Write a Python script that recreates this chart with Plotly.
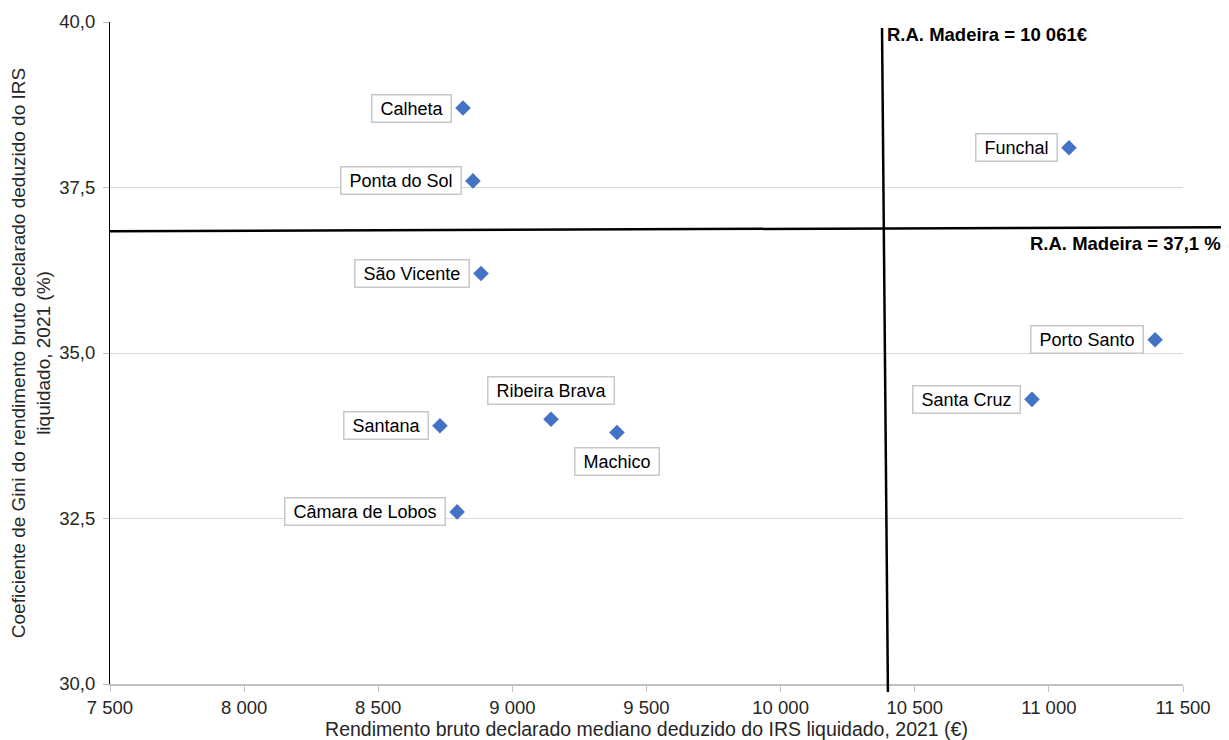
import plotly.graph_objects as go

# ---- data ----
municipios = ["Calheta", "Ponta do Sol", "São Vicente", "Funchal", "Porto Santo",
              "Santa Cruz", "Ribeira Brava", "Machico", "Santana", "Câmara de Lobos"]
rendimento = [8816, 8853, 8883, 11075, 11396, 10937, 9144, 9390, 8730, 8794]
gini = [38.7, 37.6, 36.2, 38.1, 35.2, 34.3, 34.0, 33.8, 33.9, 32.6]

ref_rendimento_label = "R.A. Madeira = 10 061€"
ref_gini_label = "R.A. Madeira = 37,1 %"
# reference lines as drawn in the original chart (data units)
vline_x = [10378, 10400]
vline_y = [39.91, 29.88]
hline_x = [7500, 11671]
hline_y = [36.84, 36.90]

x_range = [7500, 11500]
y_range = [30, 40]
x_ticks = [7500, 8000, 8500, 9000, 9500, 10000, 10500, 11000, 11500]
y_ticks = [30, 32.5, 35, 37.5, 40]

# label placement (style): side of the point
placement = {"Ribeira Brava": "above", "Machico": "below"}

FONT = "Liberation Sans, Arial, sans-serif"
TXT = "#262626"

fig = go.Figure()
fig.add_trace(go.Scatter(
    x=rendimento, y=gini, mode="markers",
    marker=dict(symbol="diamond", size=12, color="#4472C4"),
    cliponaxis=False, hoverinfo="text", text=municipios,
))

for name, xv, yv in zip(municipios, rendimento, gini):
    side = placement.get(name, "left")
    kw = dict(x=xv, y=yv, xref="x", yref="y", showarrow=False,
              text="\u00a0" + name + "\u00a0",
              font=dict(family=FONT, size=18, color="#000000"),
              bgcolor="#FFFFFF", bordercolor="#C8C8C8", borderwidth=1.5, borderpad=3)
    if side == "left":
        kw.update(xanchor="right", yanchor="middle", xshift=-11)
    elif side == "above":
        kw.update(xanchor="center", yanchor="bottom", yshift=14)
    else:
        kw.update(xanchor="center", yanchor="top", yshift=-15)
    fig.add_annotation(**kw)


def px(v):
    return (v - x_range[0]) / (x_range[1] - x_range[0])


def py(v):
    return (v - y_range[0]) / (y_range[1] - y_range[0])


fig.add_shape(type="line", xref="paper", yref="paper",
              x0=px(vline_x[0]), y0=py(vline_y[0]), x1=px(vline_x[1]), y1=py(vline_y[1]),
              line=dict(color="#000000", width=2.5))
fig.add_shape(type="line", xref="paper", yref="paper",
              x0=px(hline_x[0]), y0=py(hline_y[0]), x1=px(hline_x[1]), y1=py(hline_y[1]),
              line=dict(color="#000000", width=2.5))

fig.add_annotation(xref="paper", yref="paper", x=px(vline_x[0]), y=py(vline_y[0]),
                   xanchor="left", yanchor="middle", xshift=3, yshift=-7,
                   text="<b>" + ref_rendimento_label + "</b>", showarrow=False,
                   font=dict(family=FONT, size=18.5, color="#000000"))
fig.add_annotation(xref="paper", yref="paper", x=px(hline_x[1]), y=py(hline_y[1]),
                   xanchor="right", yanchor="top", xshift=-6, yshift=-4,
                   text="<b>" + ref_gini_label + "</b>", showarrow=False,
                   font=dict(family=FONT, size=18.5, color="#000000"))

# the page body adds an 8 px offset; the figure is sized to fill the window
fig.update_layout(
    width=1221, height=732,
    margin=dict(l=102, r=46, t=14, b=56, autoexpand=False),
    paper_bgcolor="#FFFFFF", plot_bgcolor="#FFFFFF",
    separators=", ",
    showlegend=False,
    font=dict(family=FONT, size=18.5, color=TXT),
)
fig.update_xaxes(
    range=x_range, tickvals=x_ticks, tickformat=",.0f", automargin=False,
    showgrid=False, zeroline=False,
    showline=True, linecolor="#BFBFBF", linewidth=1.5,
    ticks="outside", ticklen=6, tickcolor="#BFBFBF",
    tickfont=dict(family=FONT, size=18.5, color=TXT),
    title=dict(text="Rendimento bruto declarado mediano deduzido do IRS liquidado, 2021 (€)",
               font=dict(family=FONT, size=19.5, color=TXT), standoff=2),
)
fig.update_yaxes(
    range=y_range, tickvals=y_ticks, tickformat=".1f", automargin=False,
    showgrid=True, gridcolor="#D9D9D9", gridwidth=1, zeroline=False,
    showline=True, linecolor="#000000", linewidth=1,
    ticks="outside", ticklen=6, tickcolor="#BFBFBF", ticklabelstandoff=4,
    tickfont=dict(family=FONT, size=18.5, color=TXT),
    title=dict(text="Coeficiente de Gini do rendimento bruto declarado deduzido do IRS<br>liquidado, 2021 (%)",
               font=dict(family=FONT, size=19, color=TXT), standoff=4),
)

fig.write_html("out.html")
